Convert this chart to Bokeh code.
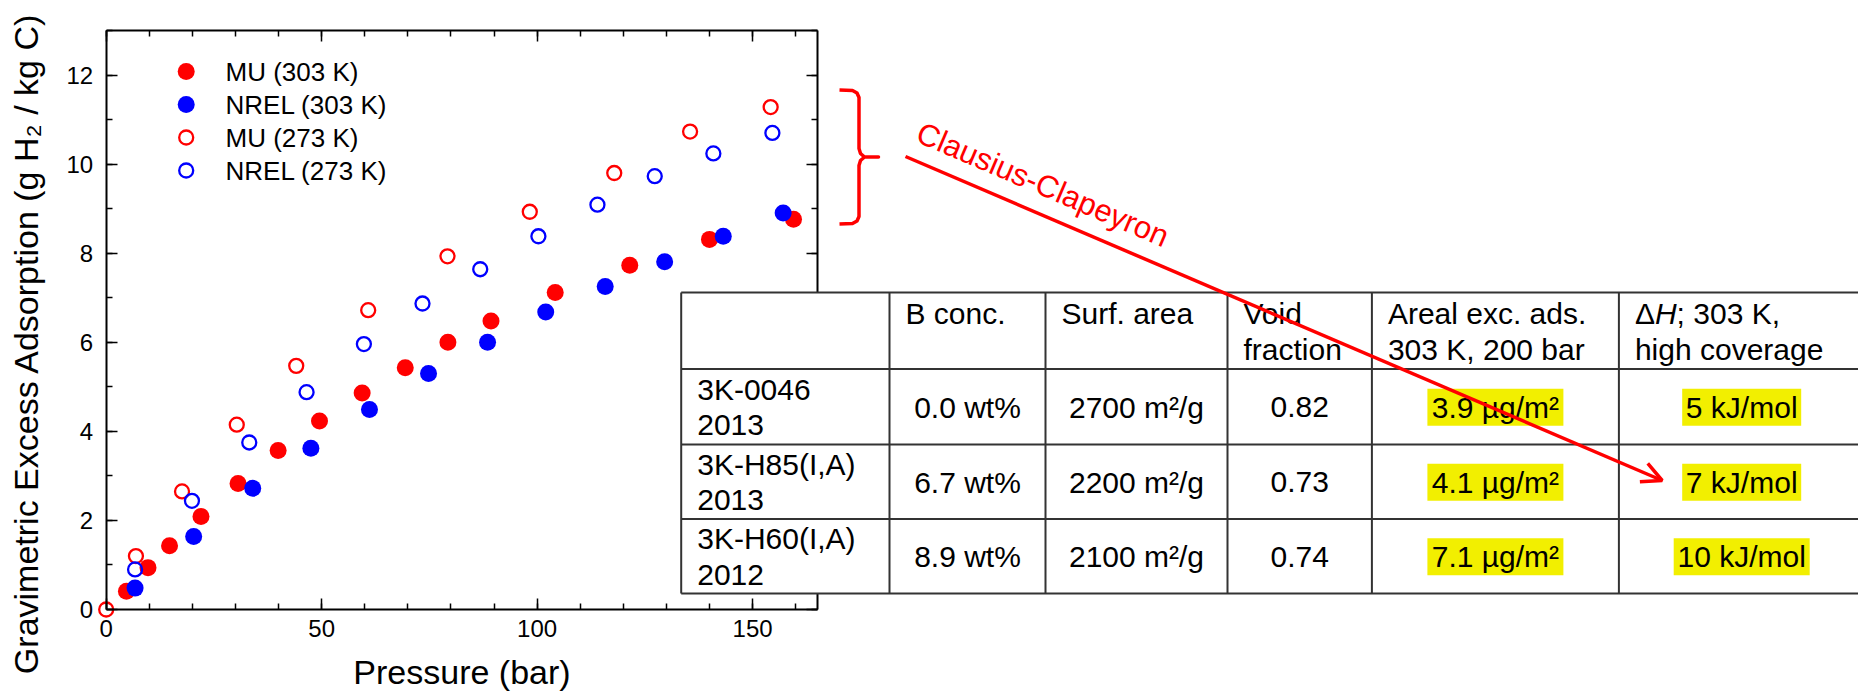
import math
from bokeh.plotting import figure
from bokeh.models import (Range1d, LinearAxis, SingleIntervalTicker, Arrow, OpenHead)
from bokeh.core.properties import value
from bokeh.embed import file_html
from bokeh.resources import INLINE

# ---------------- data ----------------
mu303_pressure = [4.7, 9.7, 14.7, 22.0, 30.6, 39.9, 49.5, 59.4, 69.4, 79.3, 89.3, 104.2, 121.5, 140.0, 159.5]
mu303_uptake = [0.41, 0.94, 1.43, 2.09, 2.83, 3.57, 4.23, 4.86, 5.43, 6.00, 6.48, 7.12, 7.73, 8.31, 8.76]

nrel303_pressure = [6.7, 20.3, 34.0, 47.5, 61.1, 74.8, 88.5, 102.0, 115.8, 129.6, 143.2, 157.1]
nrel303_uptake = [0.48, 1.64, 2.72, 3.62, 4.49, 5.30, 6.00, 6.68, 7.25, 7.81, 8.38, 8.90]

mu273_pressure = [0.0, 6.9, 17.6, 30.3, 44.1, 60.8, 79.2, 98.3, 117.9, 135.5, 154.2]
mu273_uptake = [0.0, 1.20, 2.65, 4.15, 5.47, 6.72, 7.93, 8.93, 9.80, 10.73, 11.28]

nrel273_pressure = [6.7, 19.9, 33.2, 46.5, 59.8, 73.4, 86.8, 100.3, 114.0, 127.3, 140.9, 154.6]
nrel273_uptake = [0.90, 2.44, 3.75, 4.88, 5.96, 6.87, 7.64, 8.38, 9.09, 9.73, 10.24, 10.70]

series_labels = ["MU (303 K)", "NREL (303 K)", "MU (273 K)", "NREL (273 K)"]

# table contents
header_line1 = ["", "B conc.", "Surf. area", "Void", "Areal exc. ads."]
header_line2 = ["", "", "", "fraction", "303 K, 200 bar"]
dh_header_parts = ["\u0394", "H", "; 303 K,"]
dh_header_line2 = "high coverage"
sample_names = ["3K-0046", "3K-H85(I,A)", "3K-H60(I,A)"]
sample_years = ["2013", "2013", "2012"]
b_conc = ["0.0 wt%", "6.7 wt%", "8.9 wt%"]
surf_area = ["2700 m\u00b2/g", "2200 m\u00b2/g", "2100 m\u00b2/g"]
void_fraction = ["0.82", "0.73", "0.74"]
areal_ads = ["3.9 \u00b5g/m\u00b2", "4.1 \u00b5g/m\u00b2", "7.1 \u00b5g/m\u00b2"]
delta_h = ["5 kJ/mol", "7 kJ/mol", "10 kJ/mol"]
annotation_text = "Clausius-Clapeyron"

# ---------------- layout constants ----------------
W, H = 1858, 700
FL, FR, FT, FB = 105.7, 816.7, 30.0, 609.0   # plot frame in page pixels
XMAX, YMAX = 165, 13
sx = (FR - FL) / XMAX
sy = (FB - FT) / YMAX
FONT = "Liberation Sans"
RED, BLUE = "#ff0000", "#0000ff"
YLABEL_CENTER_PX = 343.0

p = figure(width=W, height=H, output_backend="svg", toolbar_location=None,
           x_range=Range1d(-FL / sx, (W - FL) / sx),
           y_range=Range1d(-(H - FB) / sy, YMAX + FT / sy),
           x_axis_type=None, y_axis_type=None, min_border=0,
           outline_line_color=None, background_fill_color="white",
           border_fill_color="white")
p.extra_x_ranges = {"px": Range1d(0, W)}
p.extra_y_ranges = {"px": Range1d(H, 0)}


def style_axis(ax, labels=True):
    ax.axis_line_width = 2
    ax.axis_line_color = "black"
    ax.major_tick_in = 11
    ax.major_tick_out = 0
    ax.minor_tick_in = 6
    ax.minor_tick_out = 0
    ax.major_tick_line_width = 1.5
    ax.minor_tick_line_width = 1.5
    ax.major_tick_line_color = "black"
    ax.minor_tick_line_color = "black"
    ax.major_label_text_font = FONT
    ax.major_label_text_font_size = "24px"
    ax.major_label_text_color = "black" if labels else None
    ax.axis_label_text_font = FONT
    ax.axis_label_text_font_size = "34px"
    ax.axis_label_text_font_style = "normal"
    ax.axis_label_text_color = "black"


xb = LinearAxis(ticker=SingleIntervalTicker(interval=50, num_minor_ticks=5),
                bounds=(0, XMAX), fixed_location=0, axis_label="Pressure (bar)")
style_axis(xb)
xb.major_label_standoff = 10
xb.axis_label_standoff = 13
p.add_layout(xb, "below")

yl = LinearAxis(ticker=SingleIntervalTicker(interval=2, num_minor_ticks=2),
                bounds=(0, YMAX), fixed_location=0)
style_axis(yl)
yl.major_label_standoff = 13
p.add_layout(yl, "left")

# carrier of the y title only (centred where the original title sits)
yc = (FB - YLABEL_CENTER_PX) / sy
ylab = LinearAxis(ticker=SingleIntervalTicker(interval=2, num_minor_ticks=2),
                  bounds=(2 * yc - YMAX, YMAX), fixed_location=0,
                  axis_label="Gravimetric Excess Adsorption (g H\u2082 / kg C)")
style_axis(ylab, labels=False)
ylab.axis_line_color = None
ylab.major_tick_line_color = None
ylab.minor_tick_line_color = None
ylab.axis_label_standoff = 62
p.add_layout(ylab, "left")

xt = LinearAxis(ticker=SingleIntervalTicker(interval=50, num_minor_ticks=5),
                bounds=(0, XMAX), fixed_location=YMAX)
style_axis(xt, labels=False)
p.add_layout(xt, "above")

yr = LinearAxis(ticker=SingleIntervalTicker(interval=2, num_minor_ticks=2),
                bounds=(0, YMAX), fixed_location=XMAX)
style_axis(yr, labels=False)
p.add_layout(yr, "right")

# ---------------- data marks ----------------
styles = [dict(size=17, fill_color=RED, line_color=None),
          dict(size=17, fill_color=BLUE, line_color=None),
          dict(size=14, fill_color=None, line_color=RED, line_width=2.3),
          dict(size=14, fill_color=None, line_color=BLUE, line_width=2.3)]
series = [(mu303_pressure, mu303_uptake), (nrel303_pressure, nrel303_uptake),
          (mu273_pressure, mu273_uptake), (nrel273_pressure, nrel273_uptake)]
for (px_, py_), st in zip(series, styles):
    p.scatter(px_, py_, **st)

# legend (drawn in page pixels so the key markers keep their full size)
LEG_X, LEG_Y0, LEG_ROW, LEG_TX = 185.7, 71, 33, 225
for i, st in enumerate(styles):
    p.scatter([LEG_X], [LEG_Y0 + i * LEG_ROW], x_range_name="px", y_range_name="px", **st)
p.text(x=[LEG_TX] * 4, y=[LEG_Y0 + i * LEG_ROW for i in range(4)], text=series_labels,
       x_range_name="px", y_range_name="px", text_font=value(FONT), text_font_size="26px",
       text_color="black", text_align="left", text_baseline="alphabetic")

# ---------------- bracket ----------------
bx = [839, 852, 856.5, 858.5, 858.5, 860, 864, 878, 864, 860, 858.5, 858.5, 856.5, 852, 839]
by = [89.5, 90, 92.5, 97, 148, 153, 156.5, 156.5, 156.5, 160, 165, 216, 220.5, 223, 223.5]
p.line(bx, by, x_range_name="px", y_range_name="px", line_color=RED,
       line_width=3.5, line_join="round")

# ---------------- table ----------------
col_edges = [680.7, 889, 1045, 1227, 1371.4, 1618.4, 1864]
row_edges = [292, 368.5, 444, 518.5, 593]
GRID = "#333333"
TFS = "30px"
BSH = -10   # baseline correction of the renderer for 30 px text

p.quad(left=[col_edges[0]], right=[col_edges[-1]], top=[row_edges[0]], bottom=[row_edges[-1]],
       x_range_name="px", y_range_name="px", fill_color="white", line_color=None, level="overlay")

row_c = [(row_edges[i] + row_edges[i + 1]) / 2 for i in range(len(row_edges) - 1)]
col_c = [(col_edges[i] + col_edges[i + 1]) / 2 for i in range(len(col_edges) - 1)]

# yellow highlights
hl_w_areal = [136, 136, 136]
hl_w_dh = [119, 119, 136]
hx = [col_c[4]] * 3 + [col_c[5]] * 3
hw = hl_w_areal + hl_w_dh
hy = row_c[1:] * 2
p.rect(x=hx, y=[v + 0.5 for v in hy], width=hw, height=[37] * 6,
       x_range_name="px", y_range_name="px", fill_color="#f2ef00", line_color=None,
       level="overlay")

p.segment(x0=[col_edges[0]] * len(row_edges), x1=[col_edges[-1]] * len(row_edges),
          y0=row_edges, y1=row_edges, x_range_name="px", y_range_name="px",
          line_color=GRID, line_width=2, level="overlay")
p.segment(x0=col_edges[:-1], x1=col_edges[:-1], y0=[row_edges[0]] * (len(col_edges) - 1),
          y1=[row_edges[-1]] * (len(col_edges) - 1), x_range_name="px", y_range_name="px",
          line_color=GRID, line_width=2, level="overlay")

PAD = 16
L1, L2 = -7.5 + BSH, 28.5 + BSH
# header
hx1, hy1, ht1 = [], [], []
for i in range(1, 5):
    hx1 += [col_edges[i] + PAD, col_edges[i] + PAD]
    hy1 += [row_c[0] + L1, row_c[0] + L2]
    ht1 += [header_line1[i], header_line2[i]]
hx1.append(col_edges[5] + PAD)
hy1.append(row_c[0] + L2)
ht1.append(dh_header_line2)
p.text(x=hx1, y=hy1, text=ht1, x_range_name="px", y_range_name="px",
       text_font=value(FONT), text_font_size=TFS, text_color="black",
       text_align="left", text_baseline="alphabetic", level="overlay")
dx0 = col_edges[5] + PAD
p.text(x=[dx0, dx0 + 41.7], y=[row_c[0] + L1] * 2, text=[dh_header_parts[0], dh_header_parts[2]],
       x_range_name="px", y_range_name="px", text_font=value(FONT), text_font_size=TFS,
       text_color="black", text_align="left", text_baseline="alphabetic", level="overlay")
p.text(x=[dx0 + 20], y=[row_c[0] + L1], text=[dh_header_parts[1]],
       x_range_name="px", y_range_name="px", text_font=value(FONT), text_font_size=TFS,
       text_font_style="italic", text_color="black", text_align="left",
       text_baseline="alphabetic", level="overlay")

# first column (two lines)
p.text(x=[col_edges[0] + PAD] * 6,
       y=[row_c[k + 1] + L1 for k in range(3)] + [row_c[k + 1] + L2 for k in range(3)],
       text=sample_names + sample_years, x_range_name="px", y_range_name="px",
       text_font=value(FONT), text_font_size=TFS, text_color="black",
       text_align="left", text_baseline="alphabetic", level="overlay")

# other body cells
cols = [b_conc, surf_area, void_fraction, areal_ads, delta_h]
bx_, by_, bt_ = [], [], []
for ci, col in enumerate(cols):
    for ri, t in enumerate(col):
        bx_.append(col_c[ci + 1])
        by_.append(row_c[ri + 1] + 10.5 + BSH)
        bt_.append(t)
p.text(x=bx_, y=by_, text=bt_, x_range_name="px", y_range_name="px",
       text_font=value(FONT), text_font_size=TFS, text_color="black",
       text_align="center", text_baseline="alphabetic", level="overlay")

# ---------------- Clausius-Clapeyron arrow ----------------
ax0, ay0, ax1, ay1 = 905, 156, 1661.7, 480
theta = math.atan2(ay1 - ay0, ax1 - ax0)
arrow = Arrow(x_start=ax0, y_start=ay0, x_end=ax1, y_end=ay1,
              x_range_name="px", y_range_name="px",
              line_color=RED, line_width=3.5, level="overlay",
              end=OpenHead(size=20, line_color=RED, line_width=3.5))
p.add_layout(arrow)
tx0, ty0 = 914, 140
p.text(x=[tx0 - BSH * math.sin(theta)], y=[ty0 + BSH * math.cos(theta)],
       text=[annotation_text], angle=-theta, x_range_name="px",
       y_range_name="px", text_font=value(FONT), text_font_size="31px",
       text_color=RED, text_align="left", text_baseline="alphabetic", level="overlay")

open("out.html", "w").write(file_html(p, INLINE))
